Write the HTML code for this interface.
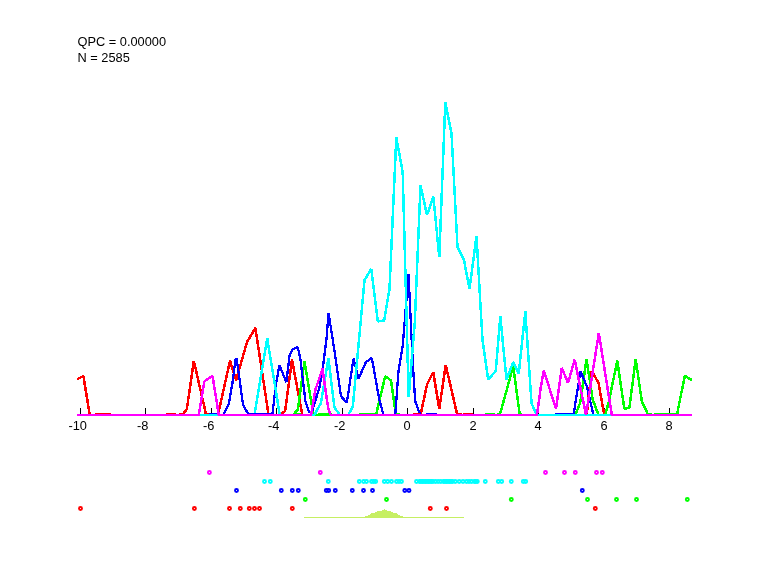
<!DOCTYPE html>
<html><head><meta charset="utf-8"><title>plot</title>
<style>
html,body{margin:0;padding:0;background:#fff;}
body{width:768px;height:576px;position:relative;overflow:hidden;font-family:"Liberation Sans",Arial,sans-serif;}
</style></head><body>
<svg width="768" height="576" viewBox="0 0 768 576" style="position:absolute;left:0;top:0">
<g fill="none" stroke-linejoin="bevel" stroke-linecap="butt" shape-rendering="crispEdges">
<rect x="80" y="408" width="1" height="6" fill="#000" stroke="none"/>
<rect x="145" y="408" width="1" height="6" fill="#000" stroke="none"/>
<rect x="211" y="408" width="1" height="6" fill="#000" stroke="none"/>
<rect x="276" y="408" width="1" height="6" fill="#000" stroke="none"/>
<rect x="342" y="408" width="1" height="6" fill="#000" stroke="none"/>
<rect x="407" y="408" width="1" height="6" fill="#000" stroke="none"/>
<rect x="473" y="408" width="1" height="6" fill="#000" stroke="none"/>
<rect x="538" y="408" width="1" height="6" fill="#000" stroke="none"/>
<rect x="604" y="408" width="1" height="6" fill="#000" stroke="none"/>
<rect x="669" y="408" width="1" height="6" fill="#000" stroke="none"/>
<polyline stroke="#ff0000" stroke-width="2.5" points="77.0,379.2 83.4,376.2 89.8,415.0 182.5,415.0 186.9,408.9 193.8,360.8 206.2,415.0 218.0,415.0 230.0,360.8 236.2,380.2 247.0,342.0 255.4,327.9 268.6,415.0 280.5,415.0 285.2,410.7 292.0,359.6 302.3,415.0 420.5,415.0 427.0,384.7 433.2,372.0 439.3,408.7 445.7,364.9 457.3,415.0 586.8,415.0 588.5,396.2 591.8,371.2 598.5,382.9 604.3,415.0 692.0,415.0"/>
<polyline stroke="#00ff00" stroke-width="2.5" points="77.0,415.0 293.0,415.0 297.8,409.7 304.5,361.5 310.8,399.2 313.6,415.0 376.0,415.0 379.3,401.2 385.2,376.2 391.0,380.4 396.0,415.0 499.8,415.0 513.2,366.3 519.8,415.0 575.2,415.0 580.2,402.9 586.5,359.1 592.7,399.5 598.5,415.0 605.2,415.0 608.5,402.9 617.3,360.7 624.3,408.7 629.4,407.7 635.7,359.1 641.8,401.2 648.3,415.0 676.9,415.0 684.8,375.8 691.9,380.2"/>
<polyline stroke="#0000ff" stroke-width="2.3" points="77.0,415.0 223.1,415.0 228.8,403.9 232.5,382.7 235.6,358.9 236.5,358.2 240.0,382.7 243.1,405.2 247.5,412.7 250.0,415.0 272.3,415.0 276.0,384.2 279.4,365.4 286.4,382.2 289.6,355.2 292.2,349.7 297.7,347.0 300.3,358.2 305.4,401.2 308.8,411.7 311.8,412.2 319.3,387.9 323.5,362.9 326.8,336.2 328.5,312.7 334.3,349.5 341.0,396.2 346.8,402.9 353.5,358.7 358.5,378.7 366.0,362.0 371.8,357.9 379.3,399.5 383.5,415.0 395.2,415.0 398.5,371.2 402.7,346.2 408.5,274.4 412.7,361.2 415.2,401.2 420.2,415.0 573.5,415.0 576.8,394.5 580.5,371.2 586.8,386.2 590.2,401.2 593.5,415.0 692.0,415.0"/>
<polyline stroke="#00ffff" stroke-width="2.5" points="77.0,415.0 254.5,415.0 267.2,338.2 279.8,415.0 314.3,415.0 321.0,402.9 328.4,358.3 334.4,407.5 340.0,415.0 348.2,415.0 352.8,406.7 358.7,343.2 364.5,280.2 371.3,268.9 377.8,321.5 384.2,320.4 389.5,289.2 396.3,137.5 402.7,172.2 408.7,397.2 414.8,322.2 420.5,185.5 427.0,215.0 433.3,196.7 439.3,256.9 445.3,102.4 451.5,133.2 457.5,247.2 464.0,260.2 469.5,289.2 476.5,236.0 482.5,340.2 488.2,379.5 495.7,371.2 500.3,316.5 506.5,379.5 513.2,362.0 518.7,373.7 525.3,311.5 531.5,402.9 536.5,415.0 692.0,415.0"/>
<rect x="95.0" y="413" width="16.0" height="1" fill="#ff0000" stroke="none"/>
<rect x="166.0" y="413" width="10.0" height="1" fill="#ff0000" stroke="none"/>
<rect x="178.5" y="413" width="6.5" height="1" fill="#ff0000" stroke="none"/>
<rect x="203.5" y="413" width="5.8" height="1" fill="#ff0000" stroke="none"/>
<rect x="412.7" y="413" width="7.3" height="1" fill="#ff0000" stroke="none"/>
<rect x="458.0" y="413" width="3.5" height="1" fill="#ff0000" stroke="none"/>
<rect x="463.0" y="413" width="10.0" height="1" fill="#ff0000" stroke="none"/>
<rect x="209.3" y="413" width="7.7" height="1" fill="#0000ff" stroke="none"/>
<rect x="248.0" y="413" width="24.0" height="1" fill="#0000ff" stroke="none"/>
<rect x="425.7" y="413" width="10.8" height="1" fill="#0000ff" stroke="none"/>
<rect x="555.0" y="413" width="18.5" height="1" fill="#0000ff" stroke="none"/>
<rect x="293.5" y="413" width="7.3" height="1" fill="#00ff00" stroke="none"/>
<rect x="317.5" y="413" width="14.5" height="1" fill="#00ff00" stroke="none"/>
<rect x="359.3" y="413" width="16.7" height="1" fill="#00ff00" stroke="none"/>
<rect x="396.8" y="413" width="3.2" height="1" fill="#00ff00" stroke="none"/>
<rect x="484.8" y="413" width="10.0" height="1" fill="#00ff00" stroke="none"/>
<rect x="497.0" y="413" width="3.0" height="1" fill="#00ff00" stroke="none"/>
<rect x="519.0" y="413" width="3.0" height="1" fill="#00ff00" stroke="none"/>
<rect x="647.0" y="413" width="5.0" height="1" fill="#00ff00" stroke="none"/>
<rect x="654.4" y="413" width="24.6" height="1" fill="#00ff00" stroke="none"/>
<polyline stroke="#ff00ff" stroke-width="2.5" points="77.0,415.0 198.8,415.0 204.4,381.4 212.5,375.8 218.8,415.0 311.0,415.0 315.4,389.8 322.5,368.6 328.2,408.4 330.7,415.0 537.0,415.0 540.7,387.9 543.8,370.7 556.0,408.7 561.8,367.9 568.0,382.9 574.7,359.8 586.0,415.0 598.8,332.9 611.8,415.0 692.0,415.0"/>
</g>
<g shape-rendering="crispEdges" fill="#c6ef63" stroke="none">
<rect x="304" y="517" width="160" height="1"/>
<rect x="384" y="509" width="1" height="1"/>
<rect x="382" y="510" width="5" height="1"/>
<rect x="377" y="511" width="14" height="1"/>
<rect x="375" y="512" width="18" height="1"/>
<rect x="371" y="513" width="26" height="1"/>
<rect x="370" y="514" width="28" height="1"/>
<rect x="368" y="515" width="32" height="1"/>
<rect x="365" y="516" width="38" height="1"/>
</g>
<g fill="none" stroke-width="1.9">
<circle cx="80.5" cy="508.5" r="1.5" stroke="#ff0000"/>
<circle cx="194.4" cy="508.5" r="1.5" stroke="#ff0000"/>
<circle cx="229.5" cy="508.5" r="1.5" stroke="#ff0000"/>
<circle cx="240.3" cy="508.5" r="1.5" stroke="#ff0000"/>
<circle cx="249.3" cy="508.5" r="1.5" stroke="#ff0000"/>
<circle cx="254.5" cy="508.5" r="1.5" stroke="#ff0000"/>
<circle cx="259.5" cy="508.5" r="1.5" stroke="#ff0000"/>
<circle cx="292.3" cy="508.5" r="1.5" stroke="#ff0000"/>
<circle cx="430.3" cy="508.5" r="1.5" stroke="#ff0000"/>
<circle cx="446.5" cy="508.5" r="1.5" stroke="#ff0000"/>
<circle cx="595.3" cy="508.5" r="1.5" stroke="#ff0000"/>
<circle cx="305.3" cy="499.5" r="1.5" stroke="#00ff00"/>
<circle cx="386.5" cy="499.5" r="1.5" stroke="#00ff00"/>
<circle cx="511.3" cy="499.5" r="1.5" stroke="#00ff00"/>
<circle cx="587.5" cy="499.5" r="1.5" stroke="#00ff00"/>
<circle cx="616.5" cy="499.5" r="1.5" stroke="#00ff00"/>
<circle cx="636.5" cy="499.5" r="1.5" stroke="#00ff00"/>
<circle cx="687.3" cy="499.5" r="1.5" stroke="#00ff00"/>
<circle cx="236.5" cy="490.5" r="1.5" stroke="#0000ff"/>
<circle cx="281.3" cy="490.5" r="1.5" stroke="#0000ff"/>
<circle cx="292.3" cy="490.5" r="1.5" stroke="#0000ff"/>
<circle cx="298.3" cy="490.5" r="1.5" stroke="#0000ff"/>
<circle cx="326.3" cy="490.5" r="1.5" stroke="#0000ff"/>
<circle cx="328.7" cy="490.5" r="1.5" stroke="#0000ff"/>
<circle cx="335.3" cy="490.5" r="1.5" stroke="#0000ff"/>
<circle cx="352.3" cy="490.5" r="1.5" stroke="#0000ff"/>
<circle cx="363.5" cy="490.5" r="1.5" stroke="#0000ff"/>
<circle cx="372.5" cy="490.5" r="1.5" stroke="#0000ff"/>
<circle cx="404.8" cy="490.5" r="1.5" stroke="#0000ff"/>
<circle cx="409.0" cy="490.5" r="1.5" stroke="#0000ff"/>
<circle cx="582.3" cy="490.5" r="1.5" stroke="#0000ff"/>
<circle cx="264.5" cy="481.5" r="1.5" stroke="#00ffff"/>
<circle cx="270.3" cy="481.5" r="1.5" stroke="#00ffff"/>
<circle cx="328.3" cy="481.5" r="1.5" stroke="#00ffff"/>
<circle cx="359.3" cy="481.5" r="1.5" stroke="#00ffff"/>
<circle cx="363.7" cy="481.5" r="1.5" stroke="#00ffff"/>
<circle cx="366.5" cy="481.5" r="1.5" stroke="#00ffff"/>
<circle cx="371.5" cy="481.5" r="1.5" stroke="#00ffff"/>
<circle cx="373.7" cy="481.5" r="1.5" stroke="#00ffff"/>
<circle cx="375.7" cy="481.5" r="1.5" stroke="#00ffff"/>
<circle cx="384.3" cy="481.5" r="1.5" stroke="#00ffff"/>
<circle cx="387.7" cy="481.5" r="1.5" stroke="#00ffff"/>
<circle cx="391.5" cy="481.5" r="1.5" stroke="#00ffff"/>
<circle cx="396.5" cy="481.5" r="1.5" stroke="#00ffff"/>
<circle cx="399.0" cy="481.5" r="1.5" stroke="#00ffff"/>
<circle cx="401.5" cy="481.5" r="1.5" stroke="#00ffff"/>
<circle cx="416.5" cy="481.5" r="1.5" stroke="#00ffff"/>
<circle cx="435.5" cy="481.5" r="1.5" stroke="#00ffff"/>
<circle cx="438.1" cy="481.5" r="1.5" stroke="#00ffff"/>
<circle cx="440.8" cy="481.5" r="1.5" stroke="#00ffff"/>
<circle cx="455.2" cy="481.5" r="1.5" stroke="#00ffff"/>
<circle cx="459.2" cy="481.5" r="1.5" stroke="#00ffff"/>
<circle cx="463.0" cy="481.5" r="1.5" stroke="#00ffff"/>
<circle cx="466.5" cy="481.5" r="1.5" stroke="#00ffff"/>
<circle cx="469.0" cy="481.5" r="1.5" stroke="#00ffff"/>
<circle cx="471.5" cy="481.5" r="1.5" stroke="#00ffff"/>
<circle cx="474.3" cy="481.5" r="1.5" stroke="#00ffff"/>
<circle cx="475.8" cy="481.5" r="1.5" stroke="#00ffff"/>
<circle cx="477.3" cy="481.5" r="1.5" stroke="#00ffff"/>
<circle cx="419.5" cy="481.5" r="1.5" stroke="#00ffff"/>
<circle cx="421.0" cy="481.5" r="1.5" stroke="#00ffff"/>
<circle cx="422.5" cy="481.5" r="1.5" stroke="#00ffff"/>
<circle cx="424.0" cy="481.5" r="1.5" stroke="#00ffff"/>
<circle cx="425.5" cy="481.5" r="1.5" stroke="#00ffff"/>
<circle cx="427.0" cy="481.5" r="1.5" stroke="#00ffff"/>
<circle cx="428.5" cy="481.5" r="1.5" stroke="#00ffff"/>
<circle cx="430.0" cy="481.5" r="1.5" stroke="#00ffff"/>
<circle cx="431.5" cy="481.5" r="1.5" stroke="#00ffff"/>
<circle cx="433.0" cy="481.5" r="1.5" stroke="#00ffff"/>
<circle cx="443.5" cy="481.5" r="1.5" stroke="#00ffff"/>
<circle cx="445.0" cy="481.5" r="1.5" stroke="#00ffff"/>
<circle cx="446.5" cy="481.5" r="1.5" stroke="#00ffff"/>
<circle cx="448.0" cy="481.5" r="1.5" stroke="#00ffff"/>
<circle cx="449.5" cy="481.5" r="1.5" stroke="#00ffff"/>
<circle cx="451.0" cy="481.5" r="1.5" stroke="#00ffff"/>
<circle cx="452.5" cy="481.5" r="1.5" stroke="#00ffff"/>
<circle cx="485.3" cy="481.5" r="1.5" stroke="#00ffff"/>
<circle cx="498.3" cy="481.5" r="1.5" stroke="#00ffff"/>
<circle cx="501.7" cy="481.5" r="1.5" stroke="#00ffff"/>
<circle cx="511.3" cy="481.5" r="1.5" stroke="#00ffff"/>
<circle cx="523.3" cy="481.5" r="1.5" stroke="#00ffff"/>
<circle cx="525.7" cy="481.5" r="1.5" stroke="#00ffff"/>
<circle cx="209.4" cy="472.5" r="1.5" stroke="#ff00ff"/>
<circle cx="320.3" cy="472.5" r="1.5" stroke="#ff00ff"/>
<circle cx="545.5" cy="472.5" r="1.5" stroke="#ff00ff"/>
<circle cx="564.5" cy="472.5" r="1.5" stroke="#ff00ff"/>
<circle cx="575.3" cy="472.5" r="1.5" stroke="#ff00ff"/>
<circle cx="596.5" cy="472.5" r="1.5" stroke="#ff00ff"/>
<circle cx="602.3" cy="472.5" r="1.5" stroke="#ff00ff"/>
</g>
<g font-family="'Liberation Sans', Arial, Helvetica, sans-serif" font-size="12.8" fill="#000">
<text x="77.5" y="46.3">QPC = 0.00000</text>
<text x="77.5" y="62.3">N = 2585</text>
<text x="77.7" y="429.7" text-anchor="middle">-10</text>
<text x="142.7" y="429.7" text-anchor="middle">-8</text>
<text x="208.7" y="429.7" text-anchor="middle">-6</text>
<text x="273.7" y="429.7" text-anchor="middle">-4</text>
<text x="339.7" y="429.7" text-anchor="middle">-2</text>
<text x="407.0" y="429.7" text-anchor="middle">0</text>
<text x="473.0" y="429.7" text-anchor="middle">2</text>
<text x="538.0" y="429.7" text-anchor="middle">4</text>
<text x="604.0" y="429.7" text-anchor="middle">6</text>
<text x="669.0" y="429.7" text-anchor="middle">8</text>
</g>
</svg>
</body></html>
